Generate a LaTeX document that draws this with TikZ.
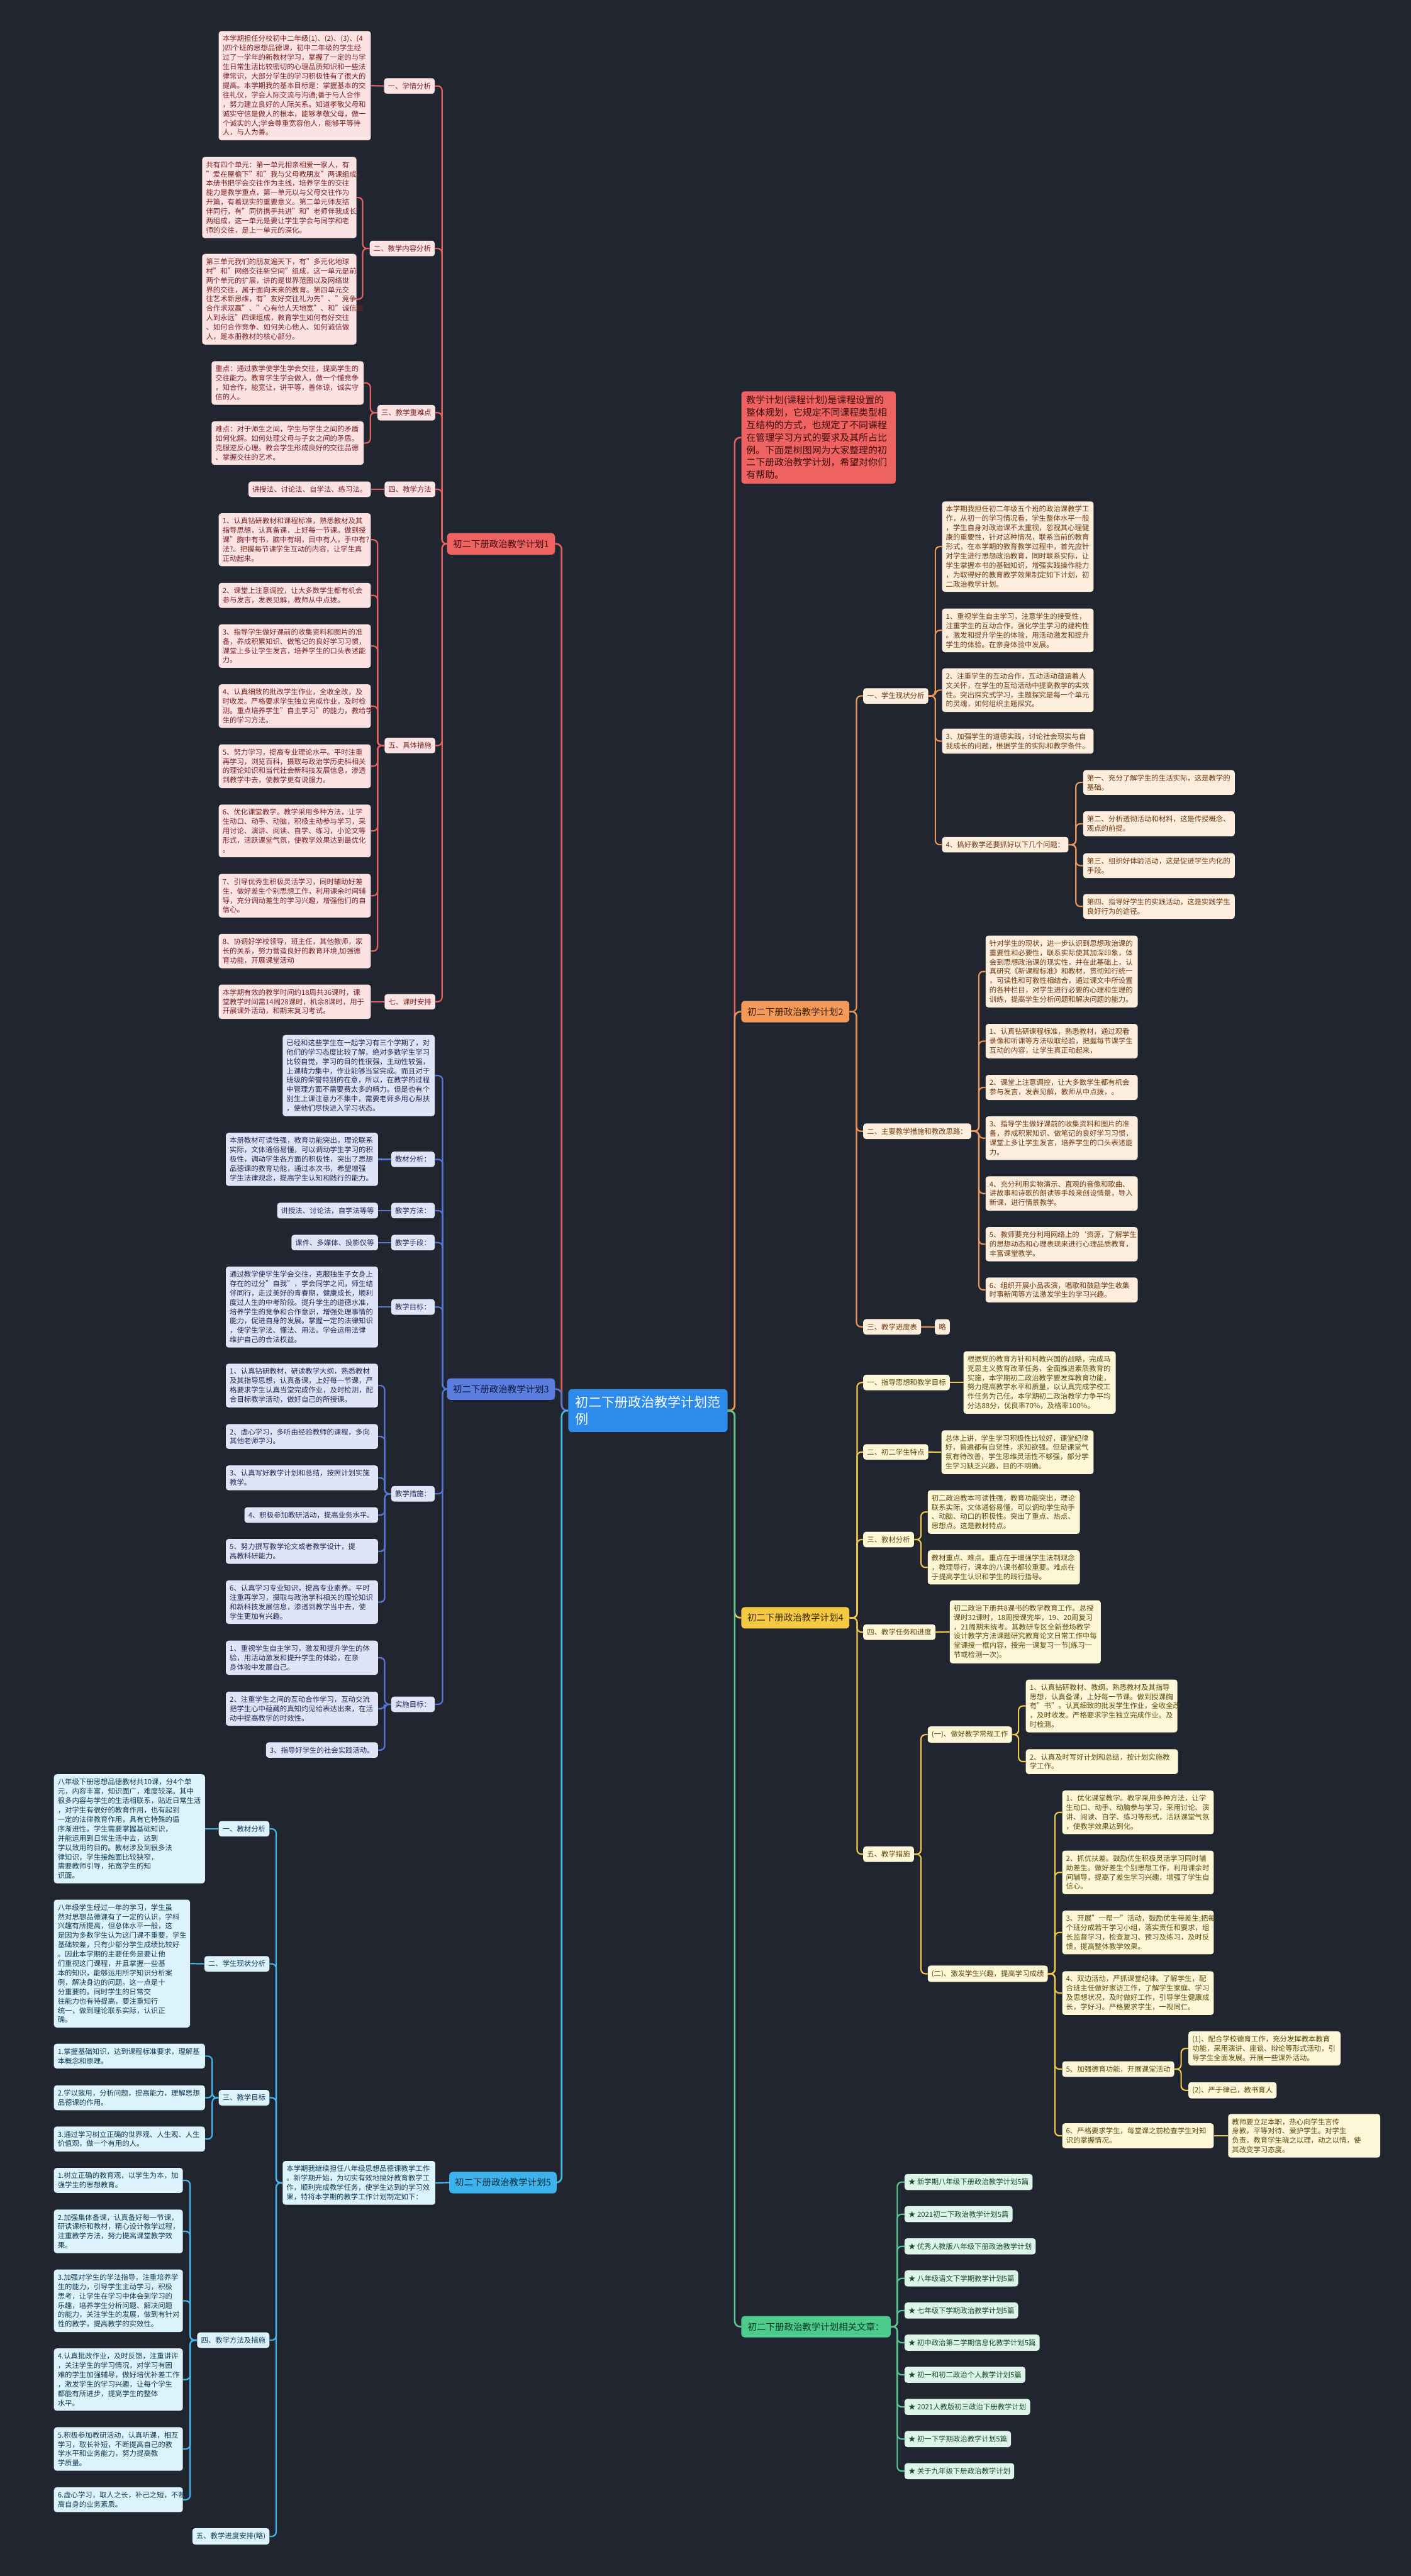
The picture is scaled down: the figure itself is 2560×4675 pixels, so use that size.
\documentclass[tikz,border=0pt]{standalone}
\usepackage{fontspec}
\setmainfont{Noto Sans CJK SC}
\newcommand\fs{\fontsize{13}{17}\selectfont}
\newcommand\fmid{\fontsize{16.5}{20}\selectfont}
\newcommand\fbig{\fontsize{24}{31}\selectfont}
\newcommand\fintro{\fontsize{17}{22.6}\selectfont}
\definecolor{bg}{HTML}{212530}
\definecolor{rL}{HTML}{E06262}\definecolor{rF}{HTML}{FCE3E3}\definecolor{rT}{HTML}{7A2222}\definecolor{rN}{HTML}{EF6262}\definecolor{rNT}{HTML}{3A0C0C}
\definecolor{oL}{HTML}{E99558}\definecolor{oF}{HTML}{FDEDDD}\definecolor{oT}{HTML}{6A3A12}\definecolor{oN}{HTML}{F39A5A}\definecolor{oNT}{HTML}{3D1D06}
\definecolor{bL}{HTML}{5577D8}\definecolor{bF}{HTML}{DFE4F7}\definecolor{bT}{HTML}{1F2B55}\definecolor{bN}{HTML}{5B7DE0}\definecolor{bNT}{HTML}{0D1838}
\definecolor{yL}{HTML}{EFC64A}\definecolor{yF}{HTML}{FDF6D7}\definecolor{yT}{HTML}{5C480C}\definecolor{yN}{HTML}{F5C944}\definecolor{yNT}{HTML}{3B2E05}
\definecolor{cL}{HTML}{46B5EA}\definecolor{cF}{HTML}{DDF3FC}\definecolor{cT}{HTML}{0F3A52}\definecolor{cN}{HTML}{3DB3EE}\definecolor{cNT}{HTML}{0A2A3C}
\definecolor{gL}{HTML}{56C893}\definecolor{gF}{HTML}{DDF5E9}\definecolor{gT}{HTML}{174A30}\definecolor{gN}{HTML}{4CCB8D}\definecolor{gNT}{HTML}{0C3A22}
\definecolor{mN}{HTML}{2D8CEB}
\tikzset{
 bx/.style={rounded corners=5pt, inner xsep=7pt, inner ysep=8pt, align=left, font=\fs},
 R/.style={bx, fill=rF, text=rT},
 O/.style={bx, fill=oF, text=oT},
 B/.style={bx, fill=bF, text=bT},
 Y/.style={bx, fill=yF, text=yT},
 C/.style={bx, fill=cF, text=cT},
 G/.style={bx, fill=gF, text=gT},
 nd/.style={rounded corners=6pt, inner xsep=10pt, inner ysep=0pt, minimum height=39pt, font=\fmid},
 lk/.style={line width=2.5pt, rounded corners=8pt},
 lkR/.style={lk, draw=rL}, lkO/.style={lk, draw=oL}, lkB/.style={lk, draw=bL},
 lkY/.style={lk, draw=yL}, lkC/.style={lk, draw=cL}, lkG/.style={lk, draw=gL},
}
\newcommand\lnkL[4]{\draw[#1] (#2.west) -- (#2.west -| #4) -- (#3.east -| #4) -- (#3.east);}
\newcommand\lnkR[4]{\draw[#1] (#2.east) -- (#2.east -| #4) -- (#3.west -| #4) -- (#3.west);}
\newcommand\lnkS[3]{\draw[#1] (#2) -- (#3);}
\begin{document}
\begin{tikzpicture}[x=1pt,y=-1pt]
\fill[bg] (0,0) rectangle (2560,4675);
\useasboundingbox (0,0) rectangle (2560,4675);

% ================= central =================
\node[rounded corners=7pt, fill=mN, text=white, font=\fbig, align=left, minimum width=289pt, minimum height=78pt, inner xsep=12pt] (CEN) at (1175.5,2560) {初二下册政治教学计划范\\例};
\coordinate (kcl) at (1019,0);
\coordinate (kcr) at (1333,0);

% ================= intro =================
\node[rounded corners=5pt, fill=rN, text=rNT, font=\fintro, align=left, text width=262pt, inner xsep=9pt, inner ysep=8pt, anchor=west] (INTRO) at (1345,794) {教学计划(课程计划)是课程设置的\\整体规划，它规定不同课程类型相\\互结构的方式，也规定了不同课程\\在管理学习方式的要求及其所占比\\例。下面是树图网为大家整理的初\\二下册政治教学计划，希望对你们\\有帮助。};

% ================= plan 1 =================
\node[nd, fill=rN, text=rNT, minimum width=196pt] (P1) at (909,987) {初二下册政治教学计划1};
\coordinate (k1) at (802,0);
\node[R, anchor=east] (L1a) at (789,156) {一、学情分析};
\node[R, anchor=east, text width=262pt] (T1a) at (673,155.5) {本学期担任分校初中二年级(1)、(2)、(3)、(4\\)四个班的思想品德课，初中二年级的学生经\\过了一学年的新教材学习，掌握了一定的与学\\生日常生活比较密切的心理品质知识和一些法\\律常识，大部分学生的学习积极性有了很大的\\提高。本学期我的基本目标是：掌握基本的交\\往礼仪，学会人际交流与沟通;善于与人合作\\，努力建立良好的人际关系。知道孝敬父母和\\诚实守信是做人的根本，能够孝敬父母，做一\\个诚实的人;学会尊重宽容他人，能够平等待\\人，与人为善。};
\node[R, anchor=east] (L1b) at (789,451) {二、教学内容分析};
\coordinate (k1b) at (658,0);
\node[R, anchor=east, text width=266pt] (T1b1) at (647,358.5) {共有四个单元：第一单元相亲相爱一家人，有\\"爱在屋檐下"和"我与父母教朋友"两课组成，\\本册书把学会交往作为主线，培养学生的交往\\能力是教学重点，第一单元以与父母交往作为\\开篇，有着现实的重要意义。第二单元师友结\\伴同行，有"同侪携手共进"和"老师伴我成长"\\两组成，这一单元是要让学生学会与同学和老\\师的交往，是上一单元的深化。};
\node[R, anchor=east, text width=266pt] (T1b2) at (647,543) {第三单元我们的朋友遍天下，有"多元化地球\\村"和"网络交往新空间"组成，这一单元是前\\两个单元的扩展，讲的是世界范围以及网络世\\界的交往，属于面向未来的教育。第四单元交\\往艺术新思维，有"友好交往礼为先"、"竞争\\合作求双赢"、"心有他人天地宽"、和"诚信做\\人到永远"四课组成，教育学生如何有好交往\\、如何合作竞争、如何关心他人、如何诚信做\\人，是本册教材的核心部分。};
\node[R, anchor=east] (L1c) at (790,749) {三、教学重难点};
\coordinate (k1c) at (672,0);
\node[R, anchor=east, text width=262pt] (T1c1) at (660,695) {重点：通过教学使学生学会交往，提高学生的\\交往能力。教育学生学会做人，做一个懂竞争\\，知合作，能宽让，讲平等，善体谅，诚实守\\信的人。};
\node[R, anchor=east, text width=262pt] (T1c2) at (660,804) {难点：对于师生之间，学生与学生之间的矛盾\\如何化解。如何处理父母与子女之间的矛盾。\\克服逆反心理。教会学生形成良好的交往品德\\、掌握交往的艺术。};
\node[R, anchor=east] (L1d) at (790,888) {四、教学方法};
\node[R, anchor=east] (T1d) at (673,888) {讲授法、讨论法、自学法、练习法。};
\node[R, anchor=east] (L1e) at (790,1353) {五、具体措施};
\coordinate (k1e) at (685,0);
\node[R, anchor=east, text width=262pt] (T1e1) at (673,979.5) {1、认真钻研教材和课程标准，熟悉教材及其\\指导思想，认真备课，上好每一节课。做到授\\课"胸中有书，脑中有纲，目中有人，手中有?\\法?。把握每节课学生互动的内容，让学生真\\正动起来。};
\node[R, anchor=east, text width=262pt] (T1e2) at (673,1080.5) {2、课堂上注意调控，让大多数学生都有机会\\参与发言，发表见解，教师从中点拨。};
\node[R, anchor=east, text width=262pt] (T1e3) at (673,1172.5) {3、指导学生做好课前的收集资料和图片的准\\备，养成积累知识、做笔记的良好学习习惯，\\课堂上多让学生发言，培养学生的口头表述能\\力。};
\node[R, anchor=east, text width=262pt] (T1e4) at (673,1281.5) {4、认真细致的批改学生作业，全收全改，及\\时收发。严格要求学生独立完成作业，及时检\\测。重点培养学生"自主学习"的能力，教给学\\生的学习方法。};
\node[R, anchor=east, text width=262pt] (T1e5) at (673,1390.5) {5、努力学习，提高专业理论水平。平时注重\\再学习，浏览百科，摄取与政治学历史科相关\\的理论知识和当代社会新科技发展信息，渗透\\到教学中去，使教学更有说服力。};
\node[R, anchor=east, text width=262pt] (T1e6) at (673,1508) {6、优化课堂教学。教学采用多种方法，让学\\生动口、动手、动脑，积极主动参与学习，采\\用讨论、演讲、阅读、自学、练习，小论文等\\形式，活跃课堂气氛，使教学效果达到最优化\\。};
\node[R, anchor=east, text width=262pt] (T1e7) at (673,1625.5) {7、引导优秀生积极灵活学习，同时辅助好差\\生，做好差生个别思想工作，利用课余时间辅\\导，充分调动差生的学习兴趣，增强他们的自\\信心。};
\node[R, anchor=east, text width=262pt] (T1e8) at (673,1726) {8、协调好学校领导，班主任，其他教师，家\\长的关系，努力营造良好的教育环境,加强德\\育功能，开展课堂活动};
\node[R, anchor=east] (L1g) at (790,1818) {七、课时安排};
\node[R, anchor=east, text width=262pt] (T1g) at (673,1818) {本学期有效的教学时间约18周共36课时，课\\堂教学时间需14周28课时，机余8课时，用于\\开展课外活动，和期末复习考试。};

\foreach \c in {L1a,L1b,L1c,L1d,L1e,L1g} {\lnkL{lkR}{P1}{\c}{k1}}
\lnkS{lkR}{L1a.west}{T1a.east}
\lnkL{lkR}{L1b}{T1b1}{k1b}\lnkL{lkR}{L1b}{T1b2}{k1b}
\lnkL{lkR}{L1c}{T1c1}{k1c}\lnkL{lkR}{L1c}{T1c2}{k1c}
\lnkS{lkR}{L1d.west}{T1d.east}
\foreach \c in {T1e1,T1e2,T1e3,T1e4,T1e5,T1e6,T1e7,T1e8} {\lnkL{lkR}{L1e}{\c}{k1e}}
\lnkS{lkR}{L1g.west}{T1g.east}

% ================= plan 3 =================
\node[nd, fill=bN, text=bNT, minimum width=196pt] (P3) at (909,2521) {初二下册政治教学计划3};
\coordinate (k3) at (803,0);
\coordinate (k3m) at (698,0);
\node[B, anchor=east, text width=262pt] (T3a) at (789,1952) {已经和这些学生在一起学习有三个学期了，对\\他们的学习态度比较了解，绝对多数学生学习\\比较自觉，学习的目的性很强，主动性较强，\\上课精力集中，作业能够当堂完成。而且对于\\班级的荣誉特别的在意，所以，在教学的过程\\中管理方面不需要费太多的精力。但是也有个\\别生上课注意力不集中，需要老师多用心帮扶\\，使他们尽快进入学习状态。};
\node[B, anchor=east] (L3b) at (789,2104) {教材分析：};
\node[B, anchor=east, text width=262pt] (T3b) at (686,2104) {本册教材可读性强，教育功能突出，理论联系\\实际，文体通俗易懂，可以调动学生学习的积\\极性，调动学生各方面的积极性，突出了思想\\品德课的教育功能，通过本次书，希望增强\\学生法律观念，提高学生认知和践行的能力。};
\node[B, anchor=east] (L3c) at (789,2197) {教学方法：};
\node[B, anchor=east] (T3c) at (686,2197) {讲授法、讨论法，自学法等等};
\node[B, anchor=east] (L3d) at (789,2255) {教学手段：};
\node[B, anchor=east] (T3d) at (686,2255) {课件、多媒体、投影仪等};
\node[B, anchor=east] (L3e) at (789,2372) {教学目标：};
\node[B, anchor=east, text width=262pt] (T3e) at (686,2372) {通过教学使学生学会交往，克服独生子女身上\\存在的过分"自我"，学会同学之间，师生结\\伴同行，走过美好的青春期，健康成长，顺利\\度过人生的中考阶段。提升学生的道德水准，\\培养学生的竞争和合作意识，增强处理事情的\\能力，促进自身的发展。掌握一定的法律知识\\，使学生学法、懂法、用法。学会运用法律\\维护自己的合法权益。};
\node[B, anchor=east] (L3f) at (789,2711) {教学措施：};
\node[B, anchor=east, text width=262pt] (T3f1) at (686,2514.5) {1、认真钻研教材，研读教学大纲，熟悉教材\\及其指导思想，认真备课，上好每一节课，严\\格要求学生认真当堂完成作业，及时检测，配\\合目标教学活动，做好自己的所授课。};
\node[B, anchor=east, text width=262pt] (T3f2) at (686,2607) {2、虚心学习，多听由经验教师的课程，多向\\其他老师学习。};
\node[B, anchor=east, text width=262pt] (T3f3) at (686,2682) {3、认真写好教学计划和总结，按照计划实施\\教学。};
\node[B, anchor=east] (T3f4) at (686,2749.5) {4、积极参加教研活动，提高业务水平。};
\node[B, anchor=east, text width=262pt] (T3f5) at (686,2815.5) {5、努力撰写教学论文或者教学设计，提\\高教科研能力。};
\node[B, anchor=east, text width=262pt] (T3f6) at (686,2907.5) {6、认真学习专业知识，提高专业素养。平时\\注重再学习，摄取与政治学科相关的理论知识\\和新科技发展信息，渗透到教学当中去，使\\学生更加有兴趣。};
\node[B, anchor=east] (L3g) at (789,3093) {实施目标：};
\node[B, anchor=east, text width=262pt] (T3g1) at (686,3008.5) {1、重视学生自主学习，激发和提升学生的体\\验，用活动激发和提升学生的体验，在亲\\身体验中发展自己。};
\node[B, anchor=east, text width=262pt] (T3g2) at (686,3101) {2、注重学生之间的互动合作学习，互动交流\\把学生心中蕴藏的真知灼见给表达出来，在活\\动中提高教学的时效性。};
\node[B, anchor=east] (T3g3) at (686,3176) {3、指导好学生的社会实践活动。};

\foreach \c in {T3a,L3b,L3c,L3d,L3e,L3f,L3g} {\lnkL{lkB}{P3}{\c}{k3}}
\lnkS{lkB}{L3b.west}{T3b.east}
\lnkS{lkB}{L3c.west}{T3c.east}
\lnkS{lkB}{L3d.west}{T3d.east}
\lnkS{lkB}{L3e.west}{T3e.east}
\foreach \c in {T3f1,T3f2,T3f3,T3f4,T3f5,T3f6} {\lnkL{lkB}{L3f}{\c}{k3m}}
\foreach \c in {T3g1,T3g2,T3g3} {\lnkL{lkB}{L3g}{\c}{k3m}}

% ================= plan 5 =================
\node[nd, fill=cN, text=cNT, minimum width=195pt] (P5) at (912.5,3961) {初二下册政治教学计划5};
\coordinate (k5) at (501,0);
\coordinate (k5c) at (385,0);
\coordinate (k5d) at (345,0);
\node[C, anchor=east, text width=263pt] (T5i) at (790,3961.5) {本学期我继续担任八年级思想品德课教学工作\\。新学期开始，为切实有效地搞好教育教学工\\作，顺利完成教学任务，使学生达到的学习效\\果，特将本学期的教学工作计划制定如下：};
\node[C, anchor=east] (L5a) at (489,3319) {一、教材分析};
\node[C, anchor=east, text width=260pt] (T5a) at (372,3319) {八年级下册思想品德教材共10课，分4个单\\元，内容丰富，知识面广，难度较深。其中\\很多内容与学生的生活相联系，贴近日常生活\\，对学生有很好的教育作用，也有起到\\一定的法律教育作用，具有它特殊的循\\序渐进性。学生需要掌握基础知识，\\并能运用到日常生活中去，达到\\学以致用的目的。教材涉及到很多法\\律知识，学生接触面比较狭窄，\\需要教师引导，拓宽学生的知\\识面。};
\node[C, anchor=east] (L5b) at (489,3564) {二、学生现状分析};
\node[C, anchor=east, text width=233pt] (T5b) at (345,3563.5) {八年级学生经过一年的学习，学生虽\\然对思想品德课有了一定的认识，学科\\兴趣有所提高，但总体水平一般，这\\是因为多数学生认为这门课不重要，学生\\基础较差，只有少部分学生成绩比较好\\。因此本学期的主要任务是要让他\\们重视这门课程，并且掌握一些基\\本的知识，能够运用所学知识分析案\\例，解决身边的问题。这一点是十\\分重要的。同时学生的日常交\\往能力也有待提高，要注重知行\\统一，做到理论联系实际，认识正\\确。};
\node[C, anchor=east] (L5c) at (489,3807) {三、教学目标};
\node[C, anchor=east, text width=260pt] (T5c1) at (372,3731.5) {1.掌握基础知识，达到课程标准要求，理解基\\本概念和原理。};
\node[C, anchor=east, text width=260pt] (T5c2) at (372,3807) {2.学以致用，分析问题，提高能力，理解思想\\品德课的作用。};
\node[C, anchor=east, text width=260pt] (T5c3) at (372,3882) {3.通过学习树立正确的世界观、人生观、人生\\价值观，做一个有用的人。};
\node[C, anchor=east] (L5d) at (489,4247) {四、教学方法及措施};
\node[C, anchor=east, text width=220pt] (T5d1) at (332,3957) {1.树立正确的教育观，以学生为本，加\\强学生的思想教育。};
\node[C, anchor=east, text width=220pt] (T5d2) at (332,4049.5) {2.加强集体备课，认真备好每一节课，\\研读课标和教材，精心设计教学过程，\\注重教学方法，努力提高课堂教学效\\果。};
\node[C, anchor=east, text width=220pt] (T5d3) at (332,4175.5) {3.加强对学生的学法指导，注重培养学\\生的能力，引导学生主动学习，积极\\思考，让学生在学习中体会到学习的\\乐趣，培养学生分析问题、解决问题\\的能力，关注学生的发展，做到有针对\\性的教学，提高教学的实效性。};
\node[C, anchor=east, text width=220pt] (T5d4) at (332,4318.5) {4.认真批改作业，及时反馈，注重讲评\\，关注学生的学习情况，对学习有困\\难的学生加强辅导，做好培优补差工作\\，激发学生的学习兴趣，让每个学生\\都能有所进步，提高学生的整体\\水平。};
\node[C, anchor=east, text width=220pt] (T5d5) at (332,4444.5) {5.积极参加教研活动，认真听课，相互\\学习，取长补短，不断提高自己的教\\学水平和业务能力，努力提高教\\学质量。};
\node[C, anchor=east, text width=220pt] (T5d6) at (332,4536.5) {6.虚心学习，取人之长，补己之短，不断提\\高自身的业务素质。};
\node[C, anchor=east] (L5e) at (489,4603) {五、教学进度安排(略)};

\draw[lkC] (P5.west) -- (T5i.east);
\foreach \c in {L5a,L5b,L5c,L5d,L5e} {\lnkL{lkC}{T5i}{\c}{k5}}
\lnkS{lkC}{L5a.west}{T5a.east}
\lnkS{lkC}{L5b.west}{T5b.east}
\foreach \c in {T5c1,T5c2,T5c3} {\lnkL{lkC}{L5c}{\c}{k5c}}
\foreach \c in {T5d1,T5d2,T5d3,T5d4,T5d5,T5d6} {\lnkL{lkC}{L5d}{\c}{k5d}}

% ================= plan 2 =================
\node[nd, fill=oN, text=oNT, minimum width=196pt] (P2) at (1443,1836) {初二下册政治教学计划2};
\coordinate (k2) at (1554,0);
\coordinate (k2a) at (1697,0);
\coordinate (k2a4) at (1952,0);
\coordinate (k2b) at (1776,0);
\node[O, anchor=west] (L2a) at (1566,1263) {一、学生现状分析};
\node[O, anchor=west, text width=261pt] (T2a0) at (1709,992) {本学期我担任初二年级五个班的政治课教学工\\作，从初一的学习情况看，学生整体水平一般\\，学生自身对政治课不太重视，忽视其心理健\\康的重要性，针对这种情况，联系当前的教育\\形式，在本学期的教育教学过程中，首先应针\\对学生进行思想政治教育，同时联系实际，让\\学生掌握本书的基础知识，增强实践操作能力\\，为取得好的教育教学效果制定如下计划，初\\二政治教学计划。};
\node[O, anchor=west, text width=261pt] (T2a1) at (1709,1144) {1、重视学生自主学习，注意学生的接受性，\\注重学生的互动合作，强化学生学习的建构性\\。激发和提升学生的体验，用活动激发和提升\\学生的体验。在亲身体验中发展。};
\node[O, anchor=west, text width=261pt] (T2a2) at (1709,1252.5) {2、注重学生的互动合作，互动活动蕴涵着人\\文关怀，在学生的互动活动中提高教学的实效\\性。突出探究式学习，主题探究是每一个单元\\的灵魂，如何组织主题探究。};
\node[O, anchor=west, text width=261pt] (T2a3) at (1709,1345) {3、加强学生的道德实践，讨论社会现实与自\\我成长的问题，根据学生的实际和教学条件。};
\node[O, anchor=west] (T2a4) at (1709,1533) {4、搞好教学还要抓好以下几个问题：};
\node[O, anchor=west, text width=261pt] (T2a41) at (1965,1420) {第一、充分了解学生的生活实际，这是教学的\\基础。};
\node[O, anchor=west, text width=261pt] (T2a42) at (1965,1495) {第二、分析透彻活动和材料，这是传授概念、\\观点的前提。};
\node[O, anchor=west, text width=261pt] (T2a43) at (1965,1571) {第三、组织好体验活动，这是促进学生内化的\\手段。};
\node[O, anchor=west, text width=261pt] (T2a44) at (1965,1645) {第四、指导好学生的实践活动，这是实践学生\\良好行为的途径。};
\node[O, anchor=west] (L2b) at (1566,2053) {二、主要教学措施和教改思路：};
\node[O, anchor=west, text width=262pt] (T2b0) at (1788,1763) {针对学生的现状，进一步认识到思想政治课的\\重要性和必要性，联系实际使其加深印象，体\\会到思想政治课的现实性，并在此基础上，认\\真研究《新课程标准》和教材，贯彻知行统一\\，可读性和可教性相结合，通过课文中所设置\\的各种栏目，对学生进行必要的心理和生理的\\训练，提高学生分析问题和解决问题的能力。};
\node[O, anchor=west, text width=262pt] (T2b1) at (1788,1889.5) {1、认真钻研课程标准，熟悉教材，通过观看\\录像和听课等方法吸取经验，把握每节课学生\\互动的内容，让学生真正动起来，};
\node[O, anchor=west, text width=262pt] (T2b2) at (1788,1973.5) {2、课堂上注意调控，让大多数学生都有机会\\参与发言，发表见解，教师从中点拨，。};
\node[O, anchor=west, text width=262pt] (T2b3) at (1788,2065.5) {3、指导学生做好课前的收集资料和图片的准\\备，养成积累知识、做笔记的良好学习习惯，\\课堂上多让学生发言，培养学生的口头表述能\\力。};
\node[O, anchor=west, text width=262pt] (T2b4) at (1788,2166) {4、充分利用实物演示、直观的音像和歌曲、\\讲故事和诗歌的朗读等手段来创设情景，导入\\新课，进行情景教学。};
\node[O, anchor=west, text width=262pt] (T2b5) at (1788,2258) {5、教师要充分利用网络上的\symbol{96}资源，了解学生\\的思想动态和心理表现来进行心理品质教育，\\丰富课堂教学。};
\node[O, anchor=west, text width=262pt] (T2b6) at (1788,2341) {6、组织开展小品表演，唱歌和鼓励学生收集\\时事新闻等方法激发学生的学习兴趣。};
\node[O, anchor=west] (L2c) at (1566,2408) {三、教学进度表};
\node[O, anchor=west] (T2c) at (1696,2408) {略};

\foreach \c in {L2a,L2b,L2c} {\lnkR{lkO}{P2}{\c}{k2}}
\foreach \c in {T2a0,T2a1,T2a2,T2a3,T2a4} {\lnkR{lkO}{L2a}{\c}{k2a}}
\foreach \c in {T2a41,T2a42,T2a43,T2a44} {\lnkR{lkO}{T2a4}{\c}{k2a4}}
\foreach \c in {T2b0,T2b1,T2b2,T2b3,T2b4,T2b5,T2b6} {\lnkR{lkO}{L2b}{\c}{k2b}}
\lnkS{lkO}{L2c.east}{T2c.west}

% ================= plan 4 =================
\node[nd, fill=yN, text=yNT, minimum width=196pt] (P4) at (1443,2936) {初二下册政治教学计划4};
\coordinate (k4) at (1555,0);
\coordinate (k4c) at (1671,0);
\coordinate (k4e1) at (1848,0);
\coordinate (k4e2) at (1914,0);
\coordinate (k4e25) at (2143,0);
\node[Y, anchor=west] (L4a) at (1566,2509) {一、指导思想和教学目标};
\node[Y, anchor=west, text width=262pt] (T4a) at (1748,2509) {根据党的教育方针和科教兴国的战略，完成马\\克思主义教育改革任务，全面推进素质教育的\\实施，本学期初二政治教学要发挥教育功能，\\努力提高教学水平和质量，以认真完成学校工\\作任务为己任。本学期初二政治教学力争平均\\分达88分，优良率70\%，及格率100\%。};
\node[Y, anchor=west] (L4b) at (1566,2635) {二、初二学生特点};
\node[Y, anchor=west, text width=262pt] (T4b) at (1708,2635.5) {总体上讲，学生学习积极性比较好，课堂纪律\\好，普遍都有自觉性，求知欲强。但是课堂气\\氛有待改善，学生思维灵活性不够强，部分学\\生学习缺乏兴趣，目的不明确。};
\node[Y, anchor=west] (L4c) at (1566,2794) {三、教材分析};
\node[Y, anchor=west, text width=262pt] (T4c1) at (1683,2744) {初二政治教本可读性强，教育功能突出，理论\\联系实际，文体通俗易懂，可以调动学生动手\\、动脑、动口的积极性。突出了重点、热点、\\思想点。这是教材特点。};
\node[Y, anchor=west, text width=262pt] (T4c2) at (1683,2844.5) {教材重点、难点。重点在于增强学生法制观念\\，教理导行，课本的八课书都较重要。难点在\\于提高学生认识和学生的践行指导。};
\node[Y, anchor=west] (L4d) at (1566,2962) {四、教学任务和进度};
\node[Y, anchor=west, text width=260pt] (T4d) at (1723,2961.5) {初二政治下册共8课书的教学教育工作。总授\\课时32课时，18周授课完毕，19、20周复习\\，21周期末统考。其教研专区全新登场教学\\设计教学方法课题研究教育论文日常工作中每\\堂课授一框内容，授完一课复习一节(练习一\\节或检测一次)。};
\node[Y, anchor=west] (L4e) at (1566,3365) {五、教学措施};
\node[Y, anchor=west] (L4e1) at (1683,3148) {(一)、做好教学常规工作};
\node[Y, anchor=west, text width=261pt] (T4e1a) at (1861,3096) {1、认真钻研教材、教纲。熟悉教材及其指导\\思想，认真备课，上好每一节课。做到授课胸\\有"书"。认真细致的批发学生作业，全收全改\\，及时收发。严格要求学生独立完成作业。及\\时检测。};
\node[Y, anchor=west, text width=262pt] (T4e1b) at (1861,3197) {2、认真及时写好计划和总结，按计划实施教\\学工作。};
\node[Y, anchor=west] (L4e2) at (1683,3582) {(二)、激发学生兴趣，提高学习成绩};
\node[Y, anchor=west, text width=261pt] (T4e21) at (1927,3289) {1、优化课堂教学。教学采用多种方法，让学\\生动口、动手、动脑参与学习，采用讨论、演\\讲、阅读、自学、练习等形式，活跃课堂气氛\\，使教学效果达到化。};
\node[Y, anchor=west, text width=261pt] (T4e22) at (1927,3398) {2、抓优扶差。鼓励优生积极灵活学习同时辅\\助差生。做好差生个别思想工作，利用课余时\\间辅导，提高了差生学习兴趣，增强了学生自\\信心。};
\node[Y, anchor=west, text width=261pt] (T4e23) at (1927,3507) {3、开展"一帮一"活动，鼓励优生带差生;把每\\个班分成若干学习小组，落实责任和要求，组\\长监督学习，检查复习、预习及练习，及时反\\馈，提高整体教学效果。};
\node[Y, anchor=west, text width=261pt] (T4e24) at (1927,3617) {4、双边活动，严抓课堂纪律。了解学生，配\\合班主任做好家访工作，了解学生家庭、学习\\及思想状况，及时做好工作，引导学生健康成\\长，学好习。严格要求学生，一视同仁。};
\node[Y, anchor=west] (T4e25) at (1927,3755) {5、加强德育功能，开展课堂活动};
\node[Y, anchor=west, text width=262pt] (T4e25a) at (2156,3717.5) {(1)、配合学校德育工作，充分发挥教本教育\\功能，采用演讲、座谈、辩论等形式活动，引\\导学生全面发展。开展一些课外活动。};
\node[Y, anchor=west] (T4e25b) at (2156,3793.5) {(2)、严于律己，教书育人};
\node[Y, anchor=west, text width=261pt] (T4e26) at (1927,3876) {6、严格要求学生，每堂课之前检查学生对知\\识的掌握情况。};
\node[Y, anchor=west, text width=262pt] (T4e26a) at (2228,3876) {教师要立足本职，热心向学生言传\\身教，平等对待、爱护学生。对学生\\负责，教育学生晓之以理，动之以情，使\\其改变学习态度。};

\foreach \c in {L4a,L4b,L4c,L4d,L4e} {\lnkR{lkY}{P4}{\c}{k4}}
\lnkS{lkY}{L4a.east}{T4a.west}
\lnkS{lkY}{L4b.east}{T4b.west}
\lnkR{lkY}{L4c}{T4c1}{k4c}\lnkR{lkY}{L4c}{T4c2}{k4c}
\lnkS{lkY}{L4d.east}{T4d.west}
\lnkR{lkY}{L4e}{L4e1}{k4c}\lnkR{lkY}{L4e}{L4e2}{k4c}
\lnkR{lkY}{L4e1}{T4e1a}{k4e1}\lnkR{lkY}{L4e1}{T4e1b}{k4e1}
\foreach \c in {T4e21,T4e22,T4e23,T4e24,T4e25,T4e26} {\lnkR{lkY}{L4e2}{\c}{k4e2}}
\lnkR{lkY}{T4e25}{T4e25a}{k4e25}\lnkR{lkY}{T4e25}{T4e25b}{k4e25}
\lnkS{lkY}{T4e26.east}{T4e26a.west}

% ================= related =================
\node[nd, fill=gN, text=gNT, minimum width=271pt, align=left] (PR) at (1480.5,4222.5) {初二下册政治教学计划相关文章：};
\coordinate (kr) at (1628,0);
\foreach \i/\t in {1/新学期八年级下册政治教学计划5篇,2/2021初二下政治教学计划5篇,3/优秀人教版八年级下册政治教学计划,4/八年级语文下学期教学计划5篇,5/七年级下学期政治教学计划5篇,6/初中政治第二学期信息化教学计划5篇,7/初一和初二政治个人教学计划5篇,8/2021人教版初三政治下册教学计划,9/初一下学期政治教学计划5篇,10/关于九年级下册政治教学计划} {
  \node[G, anchor=west, inner ysep=8.5pt] (R\i) at (1641,{3960+58.3*(\i-1)}) {★ \t};
  \lnkR{lkG}{PR}{R\i}{kr}
}

% ================= central links =================
\begin{scope}[line width=3pt, rounded corners=10pt]
\draw[draw=rL] (CEN.west) -- (CEN.west -| kcl) -- (P1.east -| kcl) -- (P1.east);
\draw[draw=bL] (CEN.west) -- (CEN.west -| kcl) -- (P3.east -| kcl) -- (P3.east);
\draw[draw=cL] (CEN.west) -- (CEN.west -| kcl) -- (P5.east -| kcl) -- (P5.east);
\draw[draw=rL] (CEN.east) -- (CEN.east -| kcr) -- (INTRO.west -| kcr) -- (INTRO.west);
\draw[draw=oL] (CEN.east) -- (CEN.east -| kcr) -- (P2.west -| kcr) -- (P2.west);
\draw[draw=yL] (CEN.east) -- (CEN.east -| kcr) -- (P4.west -| kcr) -- (P4.west);
\draw[draw=gL] (CEN.east) -- (CEN.east -| kcr) -- (PR.west -| kcr) -- (PR.west);
\end{scope}
\end{tikzpicture}
\end{document}
